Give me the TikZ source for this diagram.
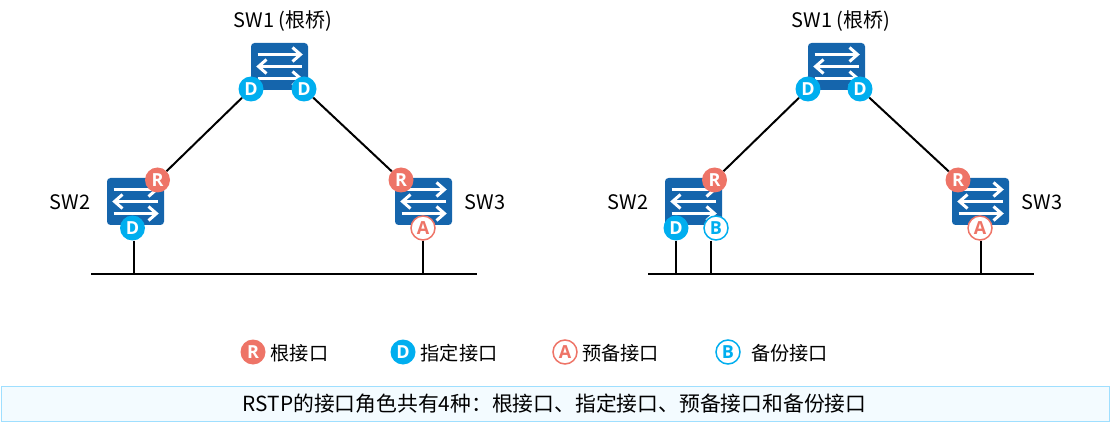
\documentclass[tikz,border=0pt]{standalone}
\usepackage{fontspec}
\setmainfont{Noto Sans CJK SC}
\newfontfamily\letterfont{Open Sans}
\usetikzlibrary{backgrounds}
\definecolor{swblue}{HTML}{1565AC}
\definecolor{portR}{HTML}{EE7467}
\definecolor{portD}{HTML}{00AEEF}
\definecolor{barfill}{HTML}{F3FBFF}
\definecolor{barline}{HTML}{9FDFFF}
\tikzset{
  switchbox/.style={draw=none,fill=swblue,rounded corners=3.5pt,minimum width=57pt,minimum height=47pt,inner sep=0pt},
  flow/.style={draw=white,line width=3pt},
  port/.style={circle,minimum size=25pt,inner sep=0pt,font=\letterfont\fontsize{18}{18}\selectfont\bfseries},
  portr/.style={port,fill=portR,text=white},
  portd/.style={port,fill=portD,text=white},
  porta/.style={port,fill=white,draw=portR,line width=1.5pt,minimum size=24pt,text=portR},
  portb/.style={port,fill=white,draw=portD,line width=1.5pt,minimum size=24pt,text=portD},
  lbl/.style={inner sep=0pt,text=black,font=\fontsize{20}{22}\selectfont},
  legendtxt/.style={lbl,anchor=west,font=\fontsize{19.2}{21}\selectfont},
  wire/.style={draw=black,line width=2pt},
  busline/.style={draw=black,line width=2pt}
}
\newcommand{\swbox}[3]{%
  \node[switchbox] (#1) at (#2,#3) {};
  \begin{scope}[shift={(#1.center)}]
    \draw[flow] (-22,-12) -- (20,-12);
    \draw[flow,line join=miter] (13,-19) -- (21,-12) -- (13,-5);
    \draw[flow] (-20,0) -- (22,0);
    \draw[flow,line join=miter] (-13,-7) -- (-21,0) -- (-13,7);
    \draw[flow] (-22,12) -- (20,12);
    \draw[flow,line join=miter] (13,5) -- (21,12) -- (13,19);
  \end{scope}}
\begin{document}
\begin{tikzpicture}[x=1pt,y=-1pt]
\useasboundingbox (0,0) rectangle (1110,430);
% left diagram
\swbox{aone}{279.5}{66.5}
\swbox{atwo}{135.5}{201.5}
\swbox{athree}{423.5}{201.5}
\node[lbl] (laone) at (283,21) {SW1 (根桥)};
\node[lbl] (latwo) at (70,202) {SW2};
\node[lbl] (lathree) at (485,202) {SW3};
\node[portd] (aoneL) at (251,89) {D};
\node[portd] (aoneR) at (304,89) {D};
\node[portr] (atwoR) at (157.5,180) {R};
\node[portd] (atwoD) at (132.5,228) {D};
\node[portr] (athreeR) at (401,180) {R};
\node[porta] (athreeA) at (423,228) {A};
\coordinate (abusL) at (91,273.5);
\coordinate (abusR) at (477,273.5);
\coordinate (abusD) at (134,273.5);
\coordinate (abusA) at (423,273.5);
\draw[busline] (abusL) -- (abusR);
\draw[wire] (aoneL) -- (atwoR);
\draw[wire] (aoneR) -- (athreeR);
\draw[wire] (atwoD.south -| abusD) -- (abusD);
\draw[wire] (athreeA) -- (abusA);
% right diagram
\swbox{bone}{836.5}{66.5}
\swbox{btwo}{693.5}{201.5}
\swbox{bthree}{980.5}{201.5}
\node[lbl] (lbone) at (841,21) {SW1 (根桥)};
\node[lbl] (lbtwo) at (628,202) {SW2};
\node[lbl] (lbthree) at (1042,202) {SW3};
\node[portd] (boneL) at (808,89) {D};
\node[portd] (boneR) at (860,89) {D};
\node[portr] (btwoR) at (714.5,180) {R};
\node[portd] (btwoD) at (676,228) {D};
\node[portb] (btwoB) at (716,228) {B};
\node[portr] (bthreeR) at (958,180) {R};
\node[porta] (bthreeA) at (980,228) {A};
\coordinate (bbusL) at (648,273.5);
\coordinate (bbusR) at (1034,273.5);
\coordinate (bbusD) at (676,273.5);
\coordinate (bbusB) at (711,273.5);
\coordinate (bbusA) at (981,273.5);
\draw[busline] (bbusL) -- (bbusR);
\draw[wire] (boneL) -- (btwoR);
\draw[wire] (boneR) -- (bthreeR);
\draw[wire] (btwoD) -- (bbusD);
\draw[wire] (btwoB.south -| bbusB) -- (bbusB);
\draw[wire] (bthreeA.south -| bbusA) -- (bbusA);
% legend
\node[portr] (legR) at (253,352) {R};
\node[legendtxt] (legRt) at (270.5,353) {根接口};
\node[portd] (legD) at (403,352) {D};
\node[legendtxt] (legDt) at (420.5,353) {指定接口};
\node[porta] (legA) at (565,352) {A};
\node[legendtxt] (legAt) at (582,353) {预备接口};
\node[portb] (legB) at (728,352) {B};
\node[legendtxt] (legBt) at (751,353) {备份接口};
% caption
\node[draw=barline,fill=barfill,line width=1.2pt,minimum width=1108pt,minimum height=35pt,inner sep=0pt,anchor=north west,font=\fontsize{20.8}{23}\selectfont] (caption) at (1,386) {\kern-2pt RSTP的接口角色共有4种：根接口、指定接口、预备接口和备份接口};
\end{tikzpicture}
\end{document}
